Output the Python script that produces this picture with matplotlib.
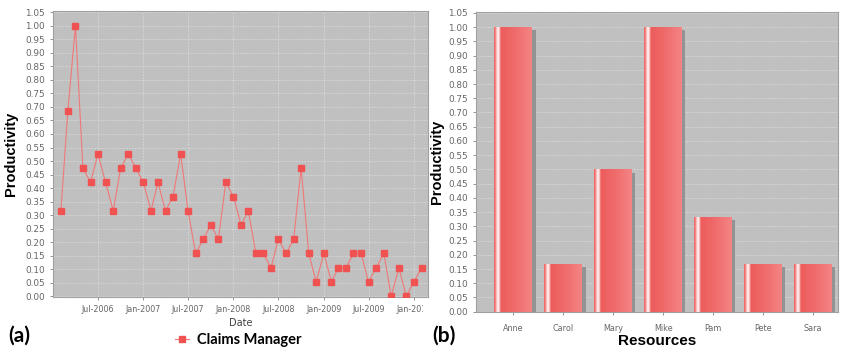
import numpy as np
import matplotlib
matplotlib.use("Agg")
import matplotlib.pyplot as plt
import matplotlib.dates as mdates
import matplotlib.patheffects as pe
from matplotlib.lines import Line2D
from matplotlib.patches import Rectangle
import datetime as dt

# ---------------- data ----------------
start_year, start_month = 2006, 2
productivity = [0.316, 0.684, 1.000, 0.474, 0.421, 0.526, 0.421, 0.316, 0.474, 0.526,
                0.474, 0.421, 0.316, 0.421, 0.316, 0.368, 0.526, 0.316, 0.158, 0.211,
                0.263, 0.211, 0.421, 0.368, 0.263, 0.316, 0.158, 0.158, 0.105, 0.211,
                0.158, 0.211, 0.474, 0.158, 0.053, 0.158, 0.053, 0.105, 0.105, 0.158,
                0.158, 0.053, 0.105, 0.158, 0.000, 0.105, 0.000, 0.053, 0.105]
series_name = "Claims Manager"
date_ticks = [dt.datetime(2006, 7, 1), dt.datetime(2007, 1, 1), dt.datetime(2007, 7, 1),
              dt.datetime(2008, 1, 1), dt.datetime(2008, 7, 1), dt.datetime(2009, 1, 1),
              dt.datetime(2009, 7, 1), dt.datetime(2010, 1, 1)]

resources = ["Anne", "Carol", "Mary", "Mike", "Pam", "Pete", "Sara"]
res_productivity = [1.0, 0.167, 0.5, 1.0, 0.333, 0.167, 0.167]

dates = []
for i in range(len(productivity)):
    m = start_month - 1 + i
    dates.append(dt.datetime(start_year + m // 12, m % 12 + 1, 1))

# ---------------- style ----------------
W, H = 843, 350
fig = plt.figure(figsize=(W / 100, H / 100), dpi=100)
plot_bg = "#c0c0c0"
grid_kw = dict(color="#d9d9d9", linestyle=(0, (2, 1.5)), linewidth=0.6)
tick_col = "#666666"

def style_axes(ax):
    ax.set_facecolor(plot_bg)
    for s in ax.spines.values():
        s.set_color("#a0a0a0")
        s.set_linewidth(0.8)
    ax.tick_params(colors="#808080", labelcolor=tick_col, length=2.5, width=0.6)
    ax.set_axisbelow(True)

# ---------------- (a) line chart ----------------
axL = fig.add_axes([53 / W, 1 - 297 / H, 375 / W, 286 / H])
style_axes(axL)
axL.plot(dates, productivity, color="#f07878", lw=0.8, marker="s", markersize=4.3,
         markerfacecolor="#f05252", markeredgecolor="#f05252", zorder=3)
axL.set_ylim(-0.003, 1.055)
axL.set_yticks(np.arange(0, 1.0501, 0.05))
axL.yaxis.set_major_formatter(matplotlib.ticker.FormatStrFormatter("%.2f"))
axL.set_xlim(dt.datetime(2005, 12, 31), dt.datetime(2010, 2, 27))
axL.set_xticks(date_ticks)
axL.xaxis.set_major_formatter(mdates.DateFormatter("%b-%Y"))
axL.tick_params(axis="y", labelsize=6.4)
axL.tick_params(axis="x", labelsize=5.8)
axL.grid(True, axis="both", **grid_kw)
axL.set_ylabel("Productivity", fontsize=10.5, fontweight="bold",
               family="Liberation Sans", labelpad=3)
axL.yaxis.set_label_coords(-35 / 375, 0.5)
axL.set_xlabel("Date", fontsize=7, color="#404040", labelpad=3)

# the last date label is cut at the gap between the panels
fig.add_artist(Rectangle((423 / W, 1 - 312 / H), 17 / W, 13 / H,
                         transform=fig.transFigure, facecolor="white",
                         edgecolor="none", zorder=10))

handle = Line2D([], [], color="#f07878", lw=0.8, marker="s", markersize=4.3,
                markerfacecolor="#f05252", markeredgecolor="#f05252")
fig.legend([handle], [series_name], loc="center",
           bbox_to_anchor=(238 / W, 1 - 340 / H), frameon=False,
           prop=dict(family="Lato", weight="bold", size=10.5),
           handlelength=1.0, handletextpad=0.5)

fig.text(8 / W, 1 - 336 / H, "(a)", family="Lato", weight="bold", fontsize=15,
         va="center", ha="left")
fig.text(432 / W, 1 - 336 / H, "(b)", family="Lato", weight="bold", fontsize=15,
         va="center", ha="left")

# ---------------- (b) bar chart ----------------
axR = fig.add_axes([476 / W, 1 - 312 / H, 362 / W, 300 / H])
style_axes(axR)
x = np.arange(len(resources))
bars = axR.bar(x, res_productivity, width=0.76, color="#f05a5a", zorder=2,
               linewidth=0)
for b in bars:
    b.set_path_effects([pe.SimplePatchShadow(offset=(2.3, -2.3),
                                             shadow_rgbFace="#8c8c8c", alpha=0.85),
                        pe.Normal()])

# horizontal gradient with highlight stripe
stops = [(0.00, (0.94, 0.38, 0.38)),
         (0.04, (0.96, 0.52, 0.52)),
         (0.08, (0.99, 0.88, 0.88)),
         (0.11, (1.00, 0.95, 0.95)),
         (0.14, (0.98, 0.80, 0.80)),
         (0.18, (0.93, 0.36, 0.36)),
         (0.60, (0.94, 0.43, 0.43)),
         (1.00, (0.96, 0.52, 0.52))]
n = 200
pos = np.linspace(0, 1, n)
grad = np.zeros((1, n, 3))
sp = np.array([s[0] for s in stops])
for c in range(3):
    grad[0, :, c] = np.interp(pos, sp, [s[1][c] for s in stops])
for b in bars:
    x0, w, h = b.get_x(), b.get_width(), b.get_height()
    im = axR.imshow(grad, extent=(x0, x0 + w, 0, h), aspect="auto", zorder=3,
                    interpolation="bilinear")
    im.set_clip_path(b)

axR.set_xlim(-0.75, 6.5)
axR.set_ylim(-0.001, 1.053)
axR.set_yticks(np.arange(0, 1.0501, 0.05))
axR.yaxis.set_major_formatter(matplotlib.ticker.FormatStrFormatter("%.2f"))
axR.set_xticks(x)
axR.set_xticklabels(resources)
axR.tick_params(axis="y", labelsize=6.4)
axR.tick_params(axis="x", labelsize=5.8, pad=6)
axR.grid(True, axis="y", **grid_kw)
axR.set_ylabel("Productivity", fontsize=10.5, fontweight="bold",
               family="Liberation Sans", labelpad=3)
axR.yaxis.set_label_coords(-32 / 362, 0.5)
axR.set_xlabel("Resources", fontsize=11, fontweight="bold",
               family="Liberation Sans", labelpad=1)

fig.savefig("out.png", dpi=100)
